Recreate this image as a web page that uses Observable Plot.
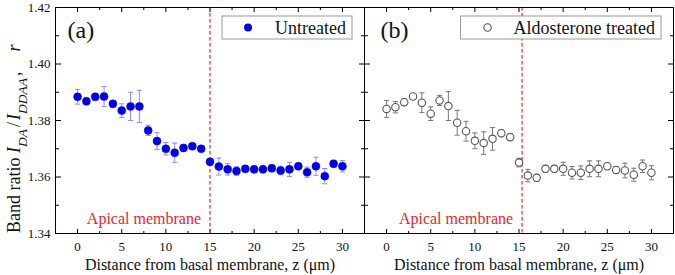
<!DOCTYPE html>
<html>
<head>
<meta charset="utf-8">
<script src="https://cdn.jsdelivr.net/npm/d3@7"></script>
<script src="https://cdn.jsdelivr.net/npm/@observablehq/plot@0.6"></script>
<style>
  html, body { margin: 0; padding: 0; background: #fff; }
  #chart svg, #chart svg text { font-family: 'Liberation Serif', 'Times New Roman', serif; }
</style>
</head>
<body>
<div id="chart"></div>
<script>
// ---------- data ----------
const depth = [0,1,2,3,4,5,6,7,8,9,10,11,12,13,14,15,16,17,18,19,20,21,22,23,24,25,26,27,28,29,30];

const untreatedRatio = [1.3884,1.3868,1.3884,1.3885,1.3859,1.3835,1.3850,1.3850,1.3765,1.3727,1.3700,1.3686,1.3703,1.3709,1.3700,1.3654,1.3637,1.3627,1.3621,1.3629,1.3627,1.3627,1.3631,1.3623,1.3627,1.3638,1.3617,1.3638,1.3603,1.3647,1.3638];
const untreatedError = [0.0026,0.0012,0.0012,0.0035,0.0012,0.0024,0.0050,0.0057,0.0018,0.0030,0.0022,0.0034,0.0012,0.0010,0.0010,0.0012,0.0030,0.0020,0.0015,0.0012,0.0012,0.0012,0.0012,0.0015,0.0025,0.0012,0.0018,0.0032,0.0027,0.0012,0.0020];

const aldoRatio = [1.3841,1.3847,1.3865,1.3885,1.3863,1.3824,1.3871,1.3851,1.3792,1.3762,1.3728,1.3720,1.3735,1.3755,1.3741,1.3651,1.3605,1.3597,1.3629,1.3629,1.3629,1.3615,1.3615,1.3629,1.3629,1.3638,1.3625,1.3623,1.3608,1.3638,1.3615];
const aldoError = [0.0030,0.0020,0.0012,0.0010,0.0035,0.0024,0.0018,0.0051,0.0044,0.0035,0.0028,0.0040,0.0040,0.0012,0.0012,0.0015,0.0022,0.0012,0.0012,0.0012,0.0023,0.0022,0.0024,0.0028,0.0028,0.0012,0.0012,0.0026,0.0023,0.0022,0.0025];

const panelKeys = ["a", "b"];
const panelLabels = ["(a)", "(b)"];
const seriesNames = ["Untreated", "Aldosterone treated"];
const apicalZ = [15, 15.35];
const apicalLabel = "Apical membrane";
const xTitle = "Distance from basal membrane, z (\u03bcm)";

const xTicks = [0, 5, 10, 15, 20, 25, 30];
const xMinorTicks = [2.5, 7.5, 12.5, 17.5, 22.5, 27.5];
const yTicks = [1.34, 1.36, 1.38, 1.40, 1.42];
const yMinorTicks = [1.35, 1.37, 1.39, 1.41];

// ---------- tables ----------
const untreatedRows = depth.map((z, i) => ({panel: panelKeys[0], z, r: untreatedRatio[i], e: untreatedError[i]}));
const aldoRows = depth.map((z, i) => ({panel: panelKeys[1], z, r: aldoRatio[i], e: aldoError[i]}));
const apicalRows = panelKeys.map((p, i) => ({panel: p, z: apicalZ[i]}));
const panelRows = panelKeys.map((p, i) => ({panel: p, label: panelLabels[i]}));

const capSymbol = {draw(ctx) { ctx.moveTo(-2.6, 0); ctx.lineTo(2.6, 0); }};

const BLUE = "#0000ee";
const BLUE_ERR = "#8c8cf4";
const GRAY = "#555555";
const GRAY_ERR = "#777777";
const RED = "#e3282c";
const FONT = "'Liberation Serif', 'Times New Roman', serif";

// tick-only axes (no text), drawn inward in every facet
const tk = (fn, ticks, anchor, frameAnchor, size) =>
  fn(ticks, {anchor, frameAnchor, tickSize: size, fill: "none", label: null, facetAnchor: null, stroke: "#000", tickFormat: () => ""});

const chart = Plot.plot({
  width: 675,
  height: 275,
  marginLeft: 55,
  marginRight: 2,
  marginTop: 7,
  marginBottom: 42,
  style: {fontFamily: FONT, fontSize: "13px", color: "#000", background: "#fff"},
  fx: {domain: panelKeys, padding: 0, axis: null},
  x: {domain: [-2.5, 32.5], axis: null},
  y: {domain: [1.34, 1.42], axis: null},
  marks: [
    tk(Plot.axisY, yTicks, "right", "left", 5),
    tk(Plot.axisY, yMinorTicks, "right", "left", 3),
    tk(Plot.axisY, yTicks, "left", "right", 5),
    tk(Plot.axisY, yMinorTicks, "left", "right", 3),
    tk(Plot.axisX, xTicks, "top", "bottom", 5),
    tk(Plot.axisX, xMinorTicks, "top", "bottom", 3),
    tk(Plot.axisX, xTicks, "bottom", "top", 5),
    tk(Plot.axisX, xMinorTicks, "bottom", "top", 3),
    // tick labels
    Plot.axisY(yTicks, {anchor: "left", tickSize: 0, tickPadding: 5, label: null, tickFormat: d => d.toFixed(2), fontSize: 13, fill: "#111"}),
    Plot.axisX(xTicks, {anchor: "bottom", tickSize: 0, tickPadding: 8, label: null, tickFormat: d => String(d), fontSize: 13, fill: "#111"}),
    // x title per panel
    Plot.text(panelRows, {fx: "panel", text: () => xTitle, frameAnchor: "bottom", lineAnchor: "top", dy: 25, fontSize: 16, fill: "#111"}),
    // apical membrane marker
    Plot.ruleX(apicalRows, {fx: "panel", x: "z", stroke: RED, strokeWidth: 1.2, strokeDasharray: "3.5,2.5"}),
    Plot.text(apicalRows, {fx: "panel", x: "z", text: () => apicalLabel, frameAnchor: "bottom", textAnchor: "end", lineAnchor: "middle", dx: -9, dy: -15, fontSize: 16, fill: RED}),
    // error bars
    Plot.ruleX(untreatedRows, {fx: "panel", x: "z", y1: d => d.r - d.e, y2: d => d.r + d.e, stroke: BLUE_ERR, strokeWidth: 1}),
    Plot.dot(untreatedRows, {fx: "panel", x: "z", y: d => d.r + d.e, symbol: capSymbol, fill: "none", stroke: BLUE_ERR, strokeWidth: 1}),
    Plot.dot(untreatedRows, {fx: "panel", x: "z", y: d => d.r - d.e, symbol: capSymbol, fill: "none", stroke: BLUE_ERR, strokeWidth: 1}),
    Plot.ruleX(aldoRows, {fx: "panel", x: "z", y1: d => d.r - d.e, y2: d => d.r + d.e, stroke: GRAY_ERR, strokeWidth: 1}),
    Plot.dot(aldoRows, {fx: "panel", x: "z", y: d => d.r + d.e, symbol: capSymbol, fill: "none", stroke: GRAY_ERR, strokeWidth: 1}),
    Plot.dot(aldoRows, {fx: "panel", x: "z", y: d => d.r - d.e, symbol: capSymbol, fill: "none", stroke: GRAY_ERR, strokeWidth: 1}),
    // points
    Plot.dot(untreatedRows, {fx: "panel", x: "z", y: "r", r: 4, fill: BLUE, stroke: BLUE, strokeWidth: 0.5}),
    Plot.dot(aldoRows, {fx: "panel", x: "z", y: "r", r: 3.7, fill: "#fff", stroke: GRAY, strokeWidth: 1.1}),
    // panel letters
    Plot.text(panelRows.slice(0, 1), {fx: "panel", text: "label", frameAnchor: "top-left", dx: 12, dy: 13, fontSize: 24, fill: "#111"}),
    Plot.text(panelRows.slice(1), {fx: "panel", text: "label", frameAnchor: "top-left", dx: 16, dy: 13, fontSize: 24, fill: "#111"}),
    Plot.frame({stroke: "#000", strokeWidth: 1})
  ]
});

document.getElementById("chart").appendChild(chart);

// ---------- legends and y title ----------
const svg = d3.select(chart);
const fxScale = chart.scale("fx");
seriesNames.forEach((name, i) => {
  const x0 = fxScale.apply(panelKeys[i]);
  const bw = fxScale.bandwidth;
  const right = x0 + bw - 12;
  const top = 16, h = 23;
  const g = svg.append("g");
  const rect = g.append("rect").attr("y", top).attr("height", h)
    .attr("fill", "#fff").attr("stroke", "#999").attr("stroke-width", 1);
  const t = g.append("text").attr("x", right - 6).attr("y", top + h / 2).attr("dy", "0.34em")
    .attr("text-anchor", "end").attr("font-size", 18).attr("fill", "#111").text(name);
  const tw = t.node().getComputedTextLength();
  const left = right - 6 - tw - 53;
  rect.attr("x", left).attr("width", right - left);
  if (i === 0) {
    g.append("circle").attr("cx", left + 26).attr("cy", top + h / 2).attr("r", 4).attr("fill", BLUE);
  } else {
    g.append("circle").attr("cx", left + 27).attr("cy", top + h / 2).attr("r", 3.7)
      .attr("fill", "#fff").attr("stroke", GRAY).attr("stroke-width", 1.1);
  }
});

const yl = svg.append("text").attr("transform", "translate(20,233) rotate(-90)")
  .attr("text-anchor", "start").attr("font-size", 18).attr("fill", "#111");
yl.append("tspan").text("Band ratio ");
yl.append("tspan").attr("font-style", "italic").text("I");
yl.append("tspan").attr("font-style", "italic").attr("font-size", 13.5).attr("dy", 7).text("DA");
yl.append("tspan").attr("dy", -7).attr("dx", 2).text("/");
yl.append("tspan").attr("font-style", "italic").attr("dx", 2).text("I");
yl.append("tspan").attr("font-style", "italic").attr("font-size", 13.5).attr("dy", 7).text("DDAA");
yl.append("tspan").attr("dy", -7).attr("dx", 2).text(",");
yl.append("tspan").attr("font-style", "italic").attr("dx", 20).text("r");
</script>
</body>
</html>
